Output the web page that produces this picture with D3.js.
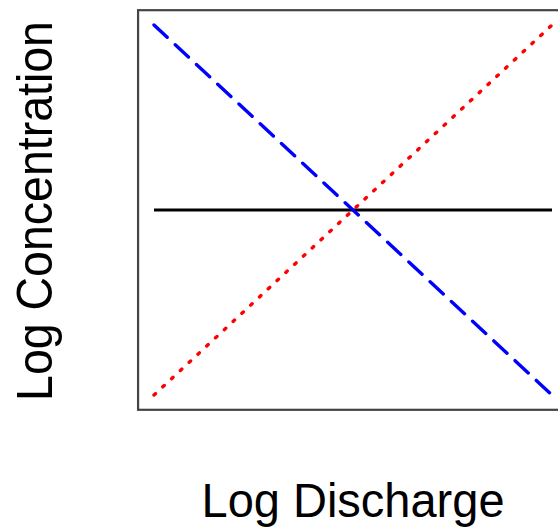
<!DOCTYPE html>
<html>
<head>
<meta charset="utf-8">
<script src="https://cdn.jsdelivr.net/npm/d3@7"></script>
<style>
  body { margin: 0; background: #fff; }
  svg { display: block; }
</style>
</head>
<body>
<div id="chart"></div>
<script>
// schematic C-Q relationships, both axes in log units (0..1)
let discharge = [0, 1];
let chemostatic = [0.5, 0.5];
let dilution = [1, 0];
let enrichment = [0, 1];

let width = 558;
let height = 527;

let svg = d3.select("#chart")
    .append("svg")
    .attr("width", width)
    .attr("height", height);

// R-style 4% padding around the data
let x = d3.scaleLinear().domain([0, 1]).range([154, 552]);
let y = d3.scaleLinear().domain([0, 1]).range([395, 25]);

let line = d3.line()
    .x((d, i) => x(discharge[i]))
    .y((d) => y(d));

// plot frame (runs past the right edge of the picture)
svg.append("rect")
    .attr("x", x(-0.04))
    .attr("y", y(1.04))
    .attr("width", x(1.04) - x(-0.04))
    .attr("height", y(-0.04) - y(1.04))
    .style("fill", "none")
    .style("stroke", "#444")
    .style("stroke-width", 2.2);

svg.append("path")
    .datum(chemostatic)
    .attr("d", line)
    .style("fill", "none")
    .style("stroke", "#000")
    .style("stroke-width", 3);

svg.append("path")
    .datum(dilution)
    .attr("d", line)
    .style("fill", "none")
    .style("stroke", "#0000ff")
    .style("stroke-width", 3.4)
    .style("stroke-linecap", "round")
    .style("stroke-dasharray", "18,11");

svg.append("path")
    .datum(enrichment)
    .attr("d", line)
    .style("fill", "none")
    .style("stroke", "#ff0000")
    .style("stroke-width", 3.4)
    .style("stroke-linecap", "round")
    .style("stroke-dasharray", "2,10");

svg.append("text")
    .attr("transform", "translate(" + (x(-0.04) + x(1.04)) / 2 + ",517) scale(1,1.03)")
    .attr("text-anchor", "middle")
    .style("font-family", "Liberation Sans, Arial, sans-serif")
    .style("font-size", "47px")
    .style("fill", "#000")
    .text("Log Discharge");

svg.append("text")
    .attr("transform", "translate(52," + 211 + ") rotate(-90) scale(1,1.08)")
    .attr("text-anchor", "middle")
    .style("font-family", "Liberation Sans, Arial, sans-serif")
    .style("font-size", "46.5px")
    .style("fill", "#000")
    .text("Log Concentration");
</script>
</body>
</html>
